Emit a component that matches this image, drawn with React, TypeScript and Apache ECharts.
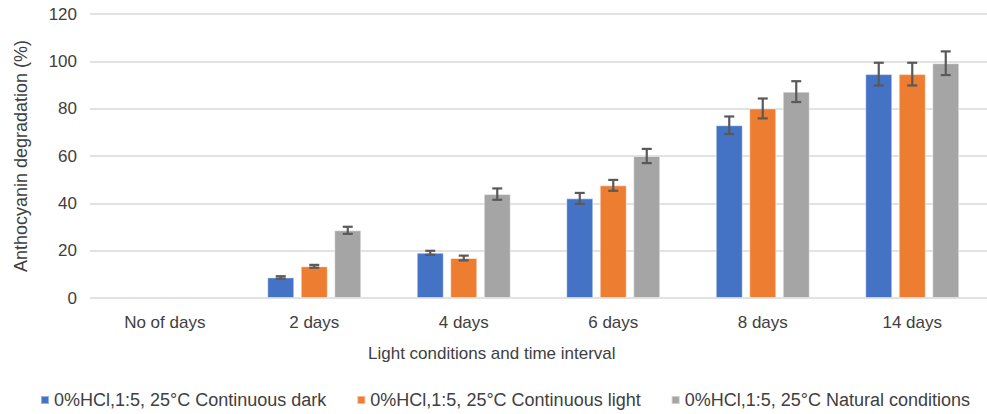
import React, { useEffect, useRef } from "react";
import * as echarts from "echarts";

const categories = ["No of days", "2 days", "4 days", "6 days", "8 days", "14 days"];
const seriesNames = [
  "0%HCl,1:5, 25°C Continuous dark",
  "0%HCl,1:5, 25°C Continuous light",
  "0%HCl,1:5, 25°C Natural conditions",
];
const darkValues = [null, 8.7, 19.1, 42.1, 73.0, 94.6];
const lightValues = [null, 13.4, 16.9, 47.6, 80.1, 94.6];
const naturalValues = [null, 28.6, 43.9, 60.0, 87.2, 99.2];
const darkErrors = [null, 0.5, 0.85, 2.3, 3.7, 4.8];
const lightErrors = [null, 0.6, 1.0, 2.3, 4.2, 4.8];
const naturalErrors = [null, 1.5, 2.4, 3.0, 4.4, 5.0];
const yTicks = [0, 20, 40, 60, 80, 100, 120];

const colors = ["#4472C4", "#ED7D31", "#A5A5A5"];
const BAR_W = 27;
const BAR_GAP = 6.5;

export default function App() {
  const ref = useRef<HTMLDivElement>(null);
  useEffect(() => {
    document.body.style.margin = "0";
    const chart = echarts.init(ref.current!, null, { renderer: "svg" });
    const values = [darkValues, lightValues, naturalValues];
    const errors = [darkErrors, lightErrors, naturalErrors];
    const font = "'Liberation Sans', Arial, sans-serif";

    const barSeries = values.map((vals, i) => ({
      name: seriesNames[i],
      type: "bar",
      data: vals,
      barWidth: BAR_W,
      barGap: (BAR_GAP / BAR_W) * 100 + "%",
      itemStyle: { color: colors[i], borderColor: "rgba(255,255,255,0.45)", borderWidth: 1 },
      z: 2,
    }));

    const errSeries = values.map((vals, i) => ({
      name: seriesNames[i],
      type: "custom",
      z: 5,
      silent: true,
      data: vals
        .map((v, k) => (v == null || errors[i][k] == null ? null : [k, v, errors[i][k]]))
        .filter((d) => d != null),
      renderItem: (params: any, api: any) => {
        const k = api.value(0);
        const v = api.value(1);
        const e = api.value(2);
        const offset = (i - 1) * (BAR_W + BAR_GAP);
        const top = api.coord([k, v + e]);
        const bot = api.coord([k, v - e]);
        const x = top[0] + offset;
        const cap = 5;
        const st = { stroke: "#595959", lineWidth: 2.2 };
        return {
          type: "group",
          children: [
            { type: "line", shape: { x1: x, y1: top[1], x2: x, y2: bot[1] }, style: st },
            { type: "line", shape: { x1: x - cap, y1: top[1], x2: x + cap, y2: top[1] }, style: st },
            { type: "line", shape: { x1: x - cap, y1: bot[1], x2: x + cap, y2: bot[1] }, style: st },
          ],
        };
      },
    }));

    chart.setOption({
      animation: false,
      textStyle: { fontFamily: font },
      color: colors,
      grid: { left: 90, top: 14, width: 909, height: 284, containLabel: false },
      legend: {
        data: seriesNames,
        left: 38,
        top: 389,
        padding: 2,
        icon: "rect",
        itemWidth: 8,
        itemHeight: 8,
        itemGap: 30,
        textStyle: { fontSize: 18, color: "#404040", fontFamily: font },
      },
      xAxis: {
        type: "category",
        data: categories,
        axisLine: { show: false },
        axisTick: { show: false },
        axisLabel: { fontSize: 17, color: "#404040", margin: 16 },
      },
      yAxis: {
        type: "value",
        min: yTicks[0],
        max: yTicks[yTicks.length - 1],
        interval: 20,
        name: "Anthocyanin degradation (%)",
        nameLocation: "middle",
        nameGap: 60,
        nameTextStyle: { fontSize: 18, color: "#404040" },
        axisLine: { show: false },
        axisTick: { show: false },
        axisLabel: { fontSize: 17, color: "#404040", margin: 13 },
        splitLine: { lineStyle: { color: "#D9D9D9", width: 1.5 } },
      },
      graphic: [
        {
          type: "text",
          left: 499 - 131,
          top: 345,
          style: {
            text: "Light conditions and time interval",
            fontSize: 17,
            fill: "#404040",
            fontFamily: font,
          },
        },
      ],
      series: [...barSeries, ...errSeries],
    });
    return () => chart.dispose();
  }, []);
  return <div ref={ref} style={{ width: 987, height: 414 }} />;
}
